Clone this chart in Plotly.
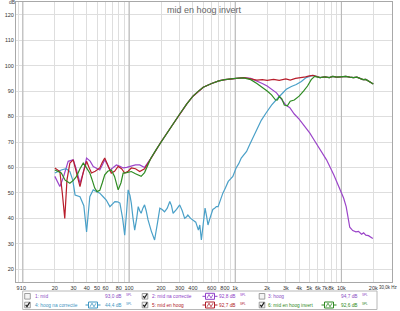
import plotly.graph_objects as go

# ---------------- data ----------------
purple_f = [20, 22.3, 24, 26.7, 29.8, 32, 34.5, 37, 39.8, 43, 46, 50, 53, 56, 59, 62, 66, 71, 76, 82, 88, 95, 105, 115, 126, 140,
            160, 180, 200, 250, 300, 350, 400, 450, 500, 600, 700, 800, 900, 1000, 1200, 1400, 1600, 1800, 2000, 2200, 2450,
            2700, 3000, 3270, 3600, 4000, 4660, 5050, 5500, 6200, 7250, 8500, 9700, 10500, 11100, 11600, 12000, 12800, 13700,
            14500, 15500, 16200, 17000, 18000, 19000, 19800]
purple_db = [56.5, 52.5, 56, 62.4, 63, 59, 53.8, 58, 63.7, 62.5, 60.4, 59.5, 59, 61, 63, 61.5, 59, 60, 61, 60.5, 59.8, 60, 60.4, 61, 61, 60,
             63.5, 67, 70, 76, 81, 85, 88, 90, 91.5, 93, 94, 94.5, 94.8, 95, 95.3, 95, 94, 93, 92, 90.8, 89.3,
             87, 84.5, 83.5, 81, 79, 75.5, 73.5, 71, 67.5, 63, 57, 51.2, 48, 44.6, 40, 36.5, 35.2, 34.7,
             34.9, 33.8, 34.3, 33.4, 33.2, 32.6, 32.1]

red_f = [20, 22.3, 23.5, 24.8, 26, 27.7, 29.8, 32, 34.5, 37, 39.8, 42, 44.3, 48, 53, 56, 59, 63, 68, 73, 79, 85, 91, 98, 105, 115,
         126, 140, 160, 180, 200, 250, 300, 350, 400, 450, 500, 600, 700, 800, 900, 1000, 1200, 1400, 1600, 1800, 2000, 2300,
         2600, 3000, 3300, 3700, 4200, 4600, 5000, 5400, 5800, 6300, 7000, 7700, 8300, 9000, 10000, 11000, 12000, 13000,
         14000, 15000, 16000, 17000, 18000, 19000, 20000]
red_db = [59.8, 58.4, 50, 40, 55, 61.7, 63, 58, 52.5, 58, 62.4, 60, 57.8, 58.5, 59.8, 62, 63.7, 61, 57.8, 58.5, 60.4, 59.5, 57.8, 58.5, 59.8, 59.5,
          58.4, 59.5, 63.5, 67, 70, 76, 81, 85, 88, 90, 91.5, 93, 94, 94.5, 94.8, 95, 95.3, 94.8, 94.3, 94.5, 94.2, 94.6,
          94.2, 94.8, 94.3, 95, 95.2, 95.6, 96, 96.2, 95.8, 95.3, 95.6, 95.3, 95.8, 95.5, 95.6, 95.8, 95.5, 95.3,
          95.5, 95, 94.5, 94.6, 94, 93.5, 92.8]

green_f = [20, 23, 25, 27.7, 30, 32, 34.5, 37, 39.5, 42.7, 45, 47.5, 50, 53, 56, 59, 63, 68, 73, 79, 84, 88, 95, 105, 115, 130, 140,
           160, 180, 200, 250, 300, 350, 400, 450, 500, 600, 700, 800, 900, 1000, 1200, 1400, 1600, 1800, 2000, 2200, 2400,
           2500, 2600, 2750, 2900, 3100, 3300, 3600, 4000, 4400, 4800, 5200, 5600, 6300, 7000, 7700, 8300, 9000, 10000,
           11000, 12000, 13000, 14000, 15000, 16000, 17000, 18000, 19000, 20000]
green_db = [59, 57.8, 55, 53.8, 55, 56.5, 59.5, 61.7, 60, 57.8, 55, 51.9, 50.5, 51, 54, 57.1, 58.5, 59, 56.5, 51.2, 54, 57.8, 58, 58.4, 57.5, 56.5, 58,
            63.5, 67, 70, 76, 81, 85, 88, 90, 91.5, 93, 94, 94.5, 94.8, 95, 95.2, 94.5, 93, 91.5, 90, 88.5, 86.5,
            86.5, 88, 87, 84.5, 84.2, 86, 86.5, 88, 90, 92, 94.5, 95.8, 95.3, 95.6, 95.3, 95.8, 95.5, 95.6,
            95.8, 95.5, 95.3, 95.5, 95, 94.5, 94.6, 94, 93.5, 92.8]

teal_f = [20, 23, 25.5, 27.7, 29.5, 31, 34.5, 37.5, 39.8, 41.5, 42.7, 46, 50, 53, 57, 61, 66, 70, 73.5, 78, 82, 87, 91, 95, 98,
          102, 105, 109, 113, 118, 122, 126, 130, 135, 140, 145, 151, 162, 174, 185, 195, 205, 216, 229, 242, 251, 260, 280,
          300, 317, 334, 346, 358, 380, 402, 425, 450, 464, 480, 500, 520, 537, 554, 573, 593, 615, 640, 665, 690, 730, 765,
          810, 860, 905, 950, 1020, 1080, 1140, 1210, 1280, 1370, 1470, 1580, 1760, 1960, 2200, 2450, 2700, 3030, 3380,
          3760, 4200, 4660, 5000, 5400, 5800, 6300, 7000, 7700, 8300, 9000, 10000, 11000, 12000, 13000, 14000, 15000,
          16000, 17000, 18000, 19000, 20000]
teal_db = [57.8, 59, 59.5, 58.4, 55, 49.2, 48.5, 45, 34.7, 45, 48.5, 51.2, 50.5, 49.9, 48.5, 47.2, 44.6, 45.5, 46.6, 46.5, 46, 40, 33.4, 43, 51.2,
           49, 46, 40, 35.4, 40, 44.6, 43, 42, 44, 45.3, 43, 39.4, 35, 31.5, 38, 44, 43.5, 42.6, 44, 46.6, 45, 42, 43.5,
           45.3, 43, 40, 40.5, 41.3, 40, 39.4, 38.5, 35.4, 37.4, 31.5, 38, 44, 41, 37.4, 39.5, 42, 43.5, 44, 44.6, 44.6, 48, 49.9,
           52, 54.5, 55.5, 56.5, 59.8, 61.5, 63.7, 65, 66.3, 69, 71.6, 74.5, 78.5, 81.5, 84.5, 86.7, 88.5, 90.7, 91.8,
           92.6, 93.8, 95.3, 95.8, 96.2, 95.8, 95.3, 95.6, 95.3, 95.8, 95.5, 95.6, 95.8, 95.5, 95.3, 95.5, 95,
           94.5, 94.6, 94, 93.5, 92.8]

x_tickvals = [9, 10, 20, 30, 40, 50, 60, 80, 100, 200, 300, 400, 600, 800, 1000, 2000, 3000, 4000, 5000, 6000, 7000, 8000,
              10000, 20000]
x_ticktext = ["9", "10", "20", "30", "40", "50", "60", "80", "100", "200", "300", "400", "600", "800", "1k", "2k", "3k", "4k",
              "5k", "6k", "7k", "8k", "10k", "20k"]
x_end_label = "30,0k Hz"
x_minor = [70, 90, 500, 700, 900, 9000]
decades = [10, 100, 1000, 10000]
y_tickvals = [20, 30, 40, 50, 60, 70, 80, 90, 100, 110, 120]

title_text = "mid en hoog invert"
legend_names = ["1: mid", "2: mid na correctie", "3: hoog", "4: hoog na correctie", "5: mid en hoog", "6: mid en hoog invert"]
legend_values = ["93,0", "92,8", "94,7", "44,4", "92,7", "92,6"]
legend_checked = [False, True, False, True, True, True]
legend_colors = ["#8a4cc4", "#9040c8", "#8a4cc4", "#3f96c2", "#b0202a", "#2f8a24"]

PURPLE = "#9b45c9"
TEAL = "#4aa0c8"
RED = "#b81e2c"
GREEN = "#2e8b22"

# ---------------- figure ----------------
W, H = 400, 311
L, R, T, B = 16, 8, 2, 29
PW, PH = W - L - R, H - T - B


def px(x):
    return (x - L) / PW


def py(y):
    return (H - B - y) / PH


def path(points):
    return "M " + " L ".join(f"{px(a):.5f},{py(b):.5f}" for a, b in points)


fig = go.Figure()

# decade grid lines (darker)
dx, dy = [], []
for d in decades:
    dx += [d, d, None]
    dy += [15, 125, None]
fig.add_trace(go.Scatter(x=dx, y=dy, mode="lines", line=dict(color="#b4b4b4", width=1),
                         hoverinfo="skip", showlegend=False))

for f, d, c in [(purple_f, purple_db, PURPLE), (teal_f, teal_db, TEAL), (red_f, red_db, RED), (green_f, green_db, GREEN)]:
    fig.add_trace(go.Scatter(x=f, y=d, mode="lines", line=dict(color=c, width=1.2), showlegend=False))

fig.update_xaxes(type="log", range=[0.935, 4.4771], tickmode="array", tickvals=x_tickvals, ticktext=x_ticktext,
                 tickangle=0, automargin=False,
                 showgrid=True, gridcolor="#dedede", gridwidth=1, zeroline=False,
                 minor=dict(tickvals=x_minor, showgrid=True, gridcolor="#dedede", gridwidth=1, ticklen=0),
                 showline=True, mirror=True, linecolor="#a8a8a8", linewidth=1, ticks="",
                 tickfont=dict(size=5.5, color="#333", family="Liberation Sans"))
fig.update_yaxes(range=[15, 125], tickmode="array", tickvals=y_tickvals, showgrid=True, gridcolor="#dedede",
                 automargin=False,
                 zeroline=False, showline=True, mirror=True, linecolor="#a8a8a8", linewidth=1, ticks="",
                 tickfont=dict(size=5.5, color="#333", family="Liberation Sans"))

ann = []
shapes = []
ann.append(dict(x=0.5, y=py(10), xref="paper", yref="paper", text=title_text, showarrow=False,
                font=dict(size=9, color="#666", family="Liberation Sans"), xanchor="center", yanchor="middle"))
ann.append(dict(x=px(12.5), y=py(2.5), xref="paper", yref="paper", text="dB", showarrow=False,
                font=dict(size=5, color="#444", family="Liberation Sans"), xanchor="center", yanchor="middle"))
ann.append(dict(x=px(399.5), y=py(287.5), xref="paper", yref="paper", text=x_end_label, showarrow=False,
                font=dict(size=4.5, color="#333", family="Liberation Sans"), xanchor="right", yanchor="middle"))

# legend box
shapes.append(dict(type="rect", xref="paper", yref="paper", x0=px(22.7), x1=px(377), y0=py(291), y1=py(309.5),
                   line=dict(color="#b8b8b8", width=1), fillcolor="white", layer="above"))

col_check_x = [27.5, 145, 262]
col_text_x = [32.5, 150, 266]
col_val_r = [130, 244, 366]
col_icon_x = [93, 210, 329]
row_y = [296.3, 305]

for i in range(6):
    r, c = divmod(i, 3)
    yy = row_y[r]
    cx = col_check_x[c]
    shapes.append(dict(type="rect", xref="paper", yref="paper", x0=px(cx - 2.8), x1=px(cx + 2.8),
                       y0=py(yy + 2.8), y1=py(yy - 2.8), line=dict(color="#888", width=0.8),
                       fillcolor="#f4f4f4", layer="above"))
    if legend_checked[i]:
        shapes.append(dict(type="path", xref="paper", yref="paper",
                           path=path([(cx - 1.8, yy - 0.2), (cx - 0.5, yy + 1.6), (cx + 2.2, yy - 2.6)]),
                           line=dict(color="#222", width=1.2), layer="above"))
    ann.append(dict(x=px(col_text_x[c]), y=py(yy), xref="paper", yref="paper", text=legend_names[i],
                    showarrow=False, font=dict(size=4.8, color=legend_colors[i], family="Liberation Sans"),
                    xanchor="left", yanchor="middle"))
    ann.append(dict(x=px(col_val_r[c] - 6), y=py(yy), xref="paper", yref="paper",
                    text=legend_values[i] + " dB", showarrow=False,
                    font=dict(size=4.8, color=legend_colors[i], family="Liberation Sans"),
                    xanchor="right", yanchor="middle"))
    ann.append(dict(x=px(col_val_r[c] - 6), y=py(yy - 1.2), xref="paper", yref="paper",
                    text="SPL", showarrow=False,
                    font=dict(size=3, color=legend_colors[i], family="Liberation Sans"),
                    xanchor="left", yanchor="middle"))
    if legend_checked[i]:
        ix = col_icon_x[c]
        col = legend_colors[i]
        shapes.append(dict(type="line", xref="paper", yref="paper", x0=px(ix - 7.5), x1=px(ix + 7.5),
                           y0=py(yy), y1=py(yy), line=dict(color=col, width=1), layer="above"))
        shapes.append(dict(type="rect", xref="paper", yref="paper", x0=px(ix - 4.5), x1=px(ix + 4.5),
                           y0=py(yy + 3), y1=py(yy - 3), line=dict(color=col, width=1), fillcolor="white",
                           layer="above"))
        shapes.append(dict(type="path", xref="paper", yref="paper",
                           path=path([(ix - 3, yy + 1.8), (ix - 1, yy - 1.8), (ix + 1, yy + 1.8), (ix + 3, yy - 1.8)]),
                           line=dict(color=col, width=0.8), layer="above"))

fig.update_layout(width=W, height=H, margin=dict(l=L, r=R, t=T, b=B), paper_bgcolor="white",
                  plot_bgcolor="white", annotations=ann, shapes=shapes, showlegend=False)

fig.write_html("out.html")
